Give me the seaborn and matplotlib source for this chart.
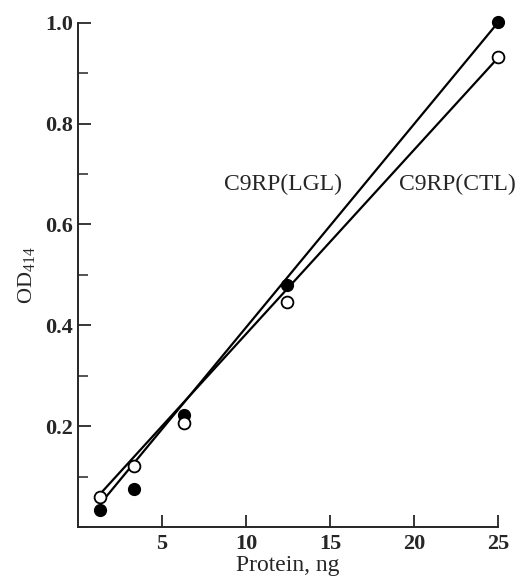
import numpy as np
import pandas as pd
import seaborn as sns
import matplotlib
matplotlib.use("Agg")
import matplotlib.pyplot as plt
from matplotlib.ticker import MultipleLocator

# Protein amount (ng) and OD414 readings
protein = [1.3, 3.35, 6.3, 12.45, 25.0]
od_lgl = [0.034, 0.076, 0.222, 0.48, 1.002]
od_ctl = [0.06, 0.121, 0.207, 0.446, 0.931]

# fitted straight lines (end points)
fit_x = [1.3, 25.0]
fit_lgl = [0.045, 1.0]
fit_ctl = [0.065, 0.93]

x_ticks = [5, 10, 15, 20, 25]
y_ticks = [0.2, 0.4, 0.6, 0.8, 1.0]

sns.set_style("ticks")
plt.rcParams["font.family"] = ["Liberation Serif", "DejaVu Serif"]
plt.rcParams["mathtext.fontset"] = "stix"

fig = plt.figure(figsize=(5.17, 5.8), dpi=100)
ax = fig.add_axes([0.151, 0.0914, 0.812, 0.8695])

fits = pd.DataFrame({"x": fit_x * 2,
                     "y": fit_lgl + fit_ctl,
                     "series": ["LGL"] * 2 + ["CTL"] * 2})
sns.lineplot(data=fits, x="x", y="y", units="series", estimator=None,
             color="black", linewidth=1.6, ax=ax)

ax.plot(protein, od_lgl, "o", color="black", markersize=8.5, clip_on=False, zorder=3)
ax.plot(protein, od_ctl, "o", markerfacecolor="white", markeredgecolor="black",
        markeredgewidth=1.3, markersize=8.5, clip_on=False, zorder=3)

ax.set_xlim(0, 25)
ax.set_ylim(0, 1.0)
ax.set_xticks(x_ticks)
ax.set_yticks(y_ticks)
ax.yaxis.set_minor_locator(MultipleLocator(0.1))
ax.tick_params(axis="both", which="major", direction="in", length=9, width=1.3,
               labelsize=16)
ax.tick_params(axis="x", which="major", pad=5)
ax.tick_params(axis="y", which="minor", direction="in", length=7, width=1.1)
for lbl in ax.get_xticklabels() + ax.get_yticklabels():
    lbl.set_fontweight("bold")

sns.despine(ax=ax)
for side in ("left", "bottom"):
    ax.spines[side].set_linewidth(1.4)

ax.set_xlabel("Protein, ng", fontsize=17, labelpad=1)
ax.set_ylabel("OD$_\\mathregular{414}$", fontsize=16, labelpad=6)

ax.text(12.2, 0.68, "C9RP(LGL)", fontsize=17, ha="center", va="center")
ax.text(22.6, 0.68, "C9RP(CTL)", fontsize=17, ha="center", va="center", clip_on=False)

fig.savefig("out.png", dpi=100)
